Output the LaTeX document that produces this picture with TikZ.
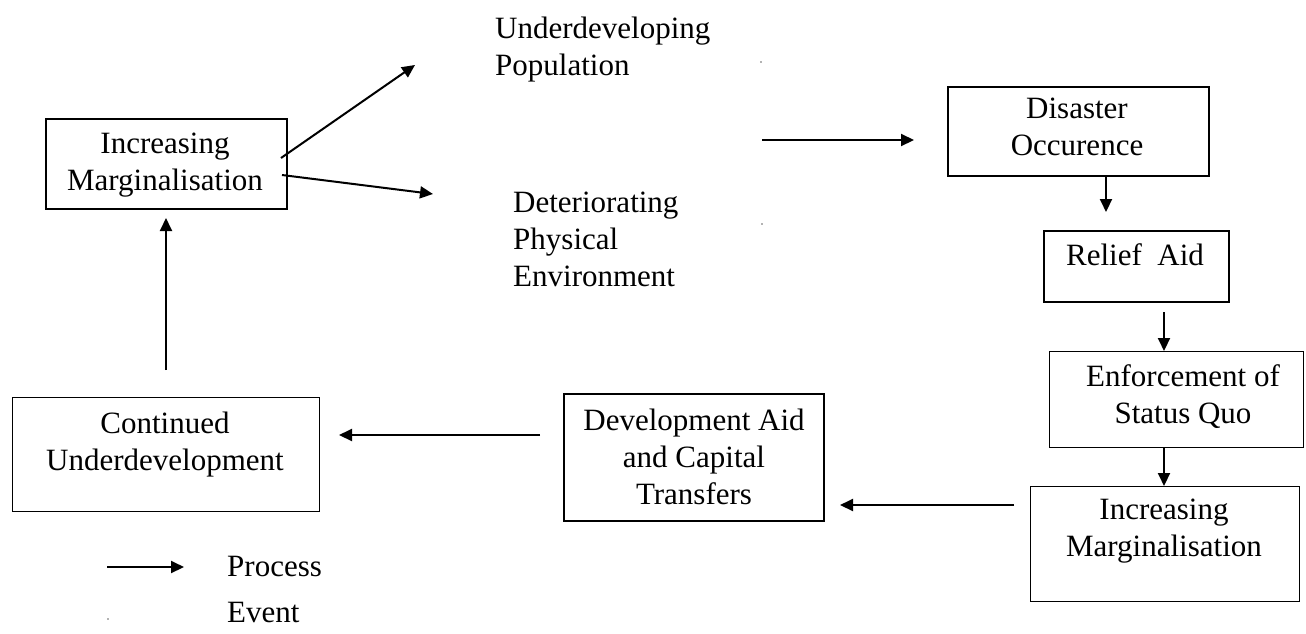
\documentclass[tikz,border=0pt]{standalone}
\usepackage{fontspec}
\setmainfont{Liberation Serif}
\usetikzlibrary{arrows.meta,calc}
\begin{document}
\begin{tikzpicture}[x=1pt,y=-1pt,
  every node/.style={font=\fontsize{31}{37}\selectfont},
  thickbox/.style={draw, line width=2.2pt, inner sep=0pt, anchor=north west},
  thinbox/.style={draw, line width=1.3pt, inner sep=0pt, anchor=north west},
  lbl/.style={align=center, inner sep=0pt},
  lbll/.style={align=left, inner sep=0pt, anchor=west},
  arr/.style={line width=2pt, -{Triangle[length=13pt,width=12pt]}},
  speck/.style={fill=black!60, inner sep=0pt, minimum size=1.6pt, circle}
]
\useasboundingbox (0,0) rectangle (1306,633);

% boxes
\node[thickbox, minimum width=241pt, minimum height=90pt]  (im1) at (45,118) {};
\node[thinbox,  minimum width=307pt, minimum height=114pt] (cont) at (12,397) {};
\node[thickbox, minimum width=260pt, minimum height=127pt] (dev) at (563,393) {};
\node[thickbox, minimum width=261pt, minimum height=89pt]  (dis) at (947,86) {};
\node[thickbox, minimum width=185pt, minimum height=71pt]  (rel) at (1043,230) {};
\node[thinbox,  minimum width=254pt, minimum height=96pt]  (enf) at (1049,351) {};
\node[thinbox,  minimum width=269pt, minimum height=115pt] (im2) at (1030,486) {};

% texts
\node[lbl] (im1t)  at (165,165.5) {Increasing\\Marginalisation};
\node[lbl] (contt) at (165,445) {Continued\\Underdevelopment};
\node[lbl] (devt)  at (694,456.5) {Development Aid\\and Capital\\Transfers};
\node[lbl] (dist)  at (1077,126.5) {Disaster\\Occurence};
\node[lbl] (relt)  at (1135,254.5) {Relief~~Aid};
\node[lbl] (enft)  at (1183,397) {Enforcement of\\Status Quo};
\node[lbl] (im2t)  at (1164,531.5) {Increasing\\Marginalisation};
\node[lbll] (undt) at (495,49.5) {Underdeveloping\\Population};
\node[lbll] (dett) at (513,239) {Deteriorating\\Physical\\Environment};
\node[lbll] (proct) at (227,566.5) {Process};
\node[lbll] (evt)   at (227,612.5) {Event};

% specks
\node[speck] (sp1) at (761,62) {};
\node[speck] (sp2) at (762,224) {};
\node[speck] (sp3) at (108,619) {};

% free arrow ends
\coordinate (a1s) at (281,158);
\coordinate (a1e) at (415,65);
\coordinate (a2s) at (282,175);
\coordinate (a2e) at (433,194);
\coordinate (a3s) at (762,140);
\coordinate (a3e) at (914,140);
\coordinate (a4e) at (1106,212);
\coordinate (a5s) at (1164,312);
\coordinate (a7s) at (1014,505);
\coordinate (a7e) at (840,505);
\coordinate (a8s) at (540,435);
\coordinate (a8e) at (339,435);
\coordinate (a9s) at (166,370);
\coordinate (a9e) at (166,218);
\coordinate (lgs) at (107,567);
\coordinate (lge) at (184,567);

% arrows
\draw[arr] (a1s) -- (a1e);
\draw[arr] (a2s) -- (a2e);
\draw[arr] (a3s) -- (a3e);
\draw[arr] (a4e |- dis.south) -- (a4e);
\draw[arr] (a5s) -- (a5s |- enf.north);
\draw[arr] (a5s |- enf.south) -- (a5s |- im2.north);
\draw[arr] (a7s) -- (a7e);
\draw[arr] (a8s) -- (a8e);
\draw[arr] (a9s) -- (a9e);
\draw[arr] (lgs) -- (lge);
\end{tikzpicture}
\end{document}
